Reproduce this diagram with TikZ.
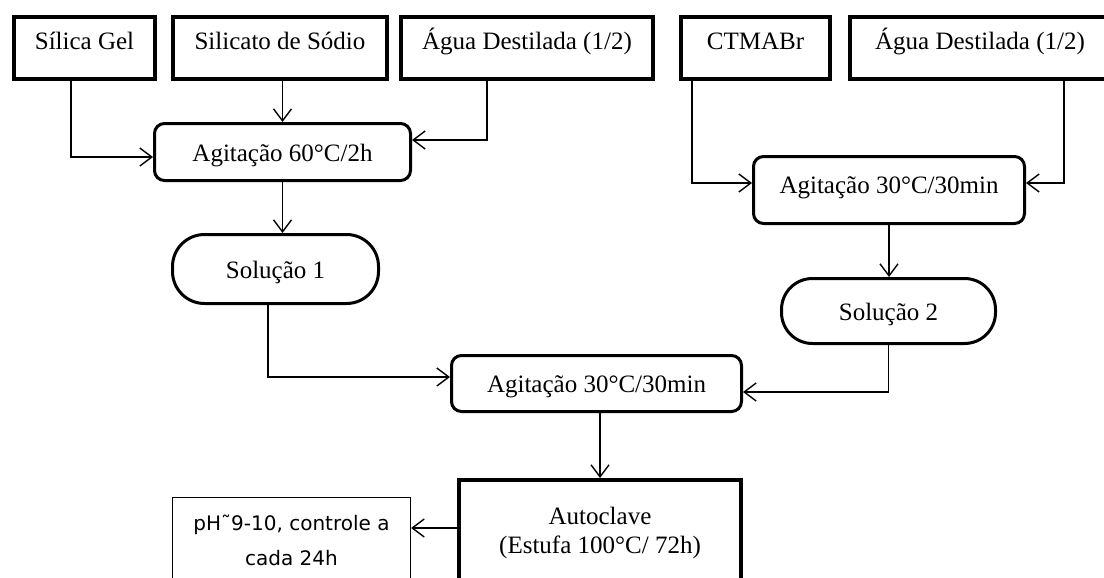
\documentclass[tikz,border=0pt]{standalone}
\usepackage{fontspec}
\setmainfont{Liberation Serif}
\newfontfamily\phFont{DejaVu Sans}
\usetikzlibrary{positioning, arrows.meta}

\begin{document}
\begin{tikzpicture}[x=0.5pt, y=-0.5pt,
    every node/.style={font=\fontsize{12.5}{14.5}\selectfont},
    inputBox/.style={draw, line width=2pt, minimum height=31pt, inner sep=0pt, text height=9pt, text depth=7.5pt},
    stepBox/.style={draw, line width=1.5pt, rounded corners=5pt, inner sep=0pt, text height=9pt, text depth=0pt},
    solBox/.style={draw, line width=1.5pt, inner sep=0pt, text height=9pt, text depth=0pt},
    flow/.style={line width=0.7pt, -{Straight Barb[length=6pt, width=9pt]}}]
    \useasboundingbox (0,0) rectangle (1104,578);
    \clip (0,0) rectangle (1104,578);

    % inputs
    \node[inputBox, minimum width=70.5pt] (silicaGel) at (84.5,48) {Sílica Gel};
    \node[inputBox, minimum width=107pt] (silicato) at (280,48) {Silicato de Sódio};
    \node[inputBox, minimum width=126pt] (aguaA) at (527,48) {Água Destilada (1/2)};
    \node[inputBox, minimum width=74.5pt] (ctmabr) at (755.5,48) {CTMABr};
    \node[inputBox, minimum width=130pt] (aguaB) at (980,48) {Água Destilada (1/2)};

    % steps
    \node[stepBox, minimum width=128pt, minimum height=28.5pt] (agitacaoA) at (282.5,152) {Agitação 60°C/2h};
    \node[solBox, rounded corners=16pt, minimum width=103pt, minimum height=34.5pt] (solucaoA) at (275.5,269) {Solução 1};
    \node[stepBox, text depth=6pt, minimum width=135.5pt, minimum height=33.5pt] (agitacaoB) at (889,190) {Agitação 30°C/30min};
    \node[solBox, rounded corners=15.5pt, minimum width=107pt, minimum height=32.5pt] (solucaoB) at (888.5,311) {Solução 2};
    \node[stepBox, minimum width=145pt, minimum height=28pt] (agitacaoC) at (596.5,383.5) {Agitação 30°C/30min};
    \node[draw, line width=2pt, minimum width=141pt, minimum height=52.5pt, align=center] (autoclave) at (600,532.5) {Autoclave\\(Estufa 100°C/ 72h)};
    \node[draw, line width=0.6pt, minimum width=119pt, minimum height=43pt, align=center,
          font=\phFont\fontsize{10}{17.5}\selectfont] (phControl) at (291.5,540.5) {pH˜9-10, controle a\\cada 24h};

    \draw[flow] ([xshift=-6.75pt]silicaGel.south) |- ([yshift=-2.5pt]agitacaoA.west);
    \draw[flow] (agitacaoA.north |- silicato.south) -- (agitacaoA.north);
    \draw[flow] ([xshift=-20pt]aguaA.south) |- ([yshift=6pt]agitacaoA.east);
    \draw[flow] (agitacaoA.south) -- (agitacaoA.south |- solucaoA.north);
    \draw[flow] ([xshift=-31.75pt]ctmabr.south) |- ([yshift=3.5pt]agitacaoB.west);
    \draw[flow] ([xshift=42pt]aguaB.south) |- ([yshift=3.5pt]agitacaoB.east);
    \draw[flow] (agitacaoB.south) -- (agitacaoB.south |- solucaoB.north);
    \draw[flow] ([xshift=-3.75pt]solucaoA.south) |- ([yshift=3.25pt]agitacaoC.west);
    \draw[flow] (solucaoB.south) |- ([yshift=-4.25pt]agitacaoC.east);
    \draw[flow] (autoclave.north |- agitacaoC.south) -- (autoclave.north);
    \draw[flow] ([yshift=2.25pt]autoclave.west) -- ([yshift=2.25pt]autoclave.west -| phControl.east);
\end{tikzpicture}
\end{document}
